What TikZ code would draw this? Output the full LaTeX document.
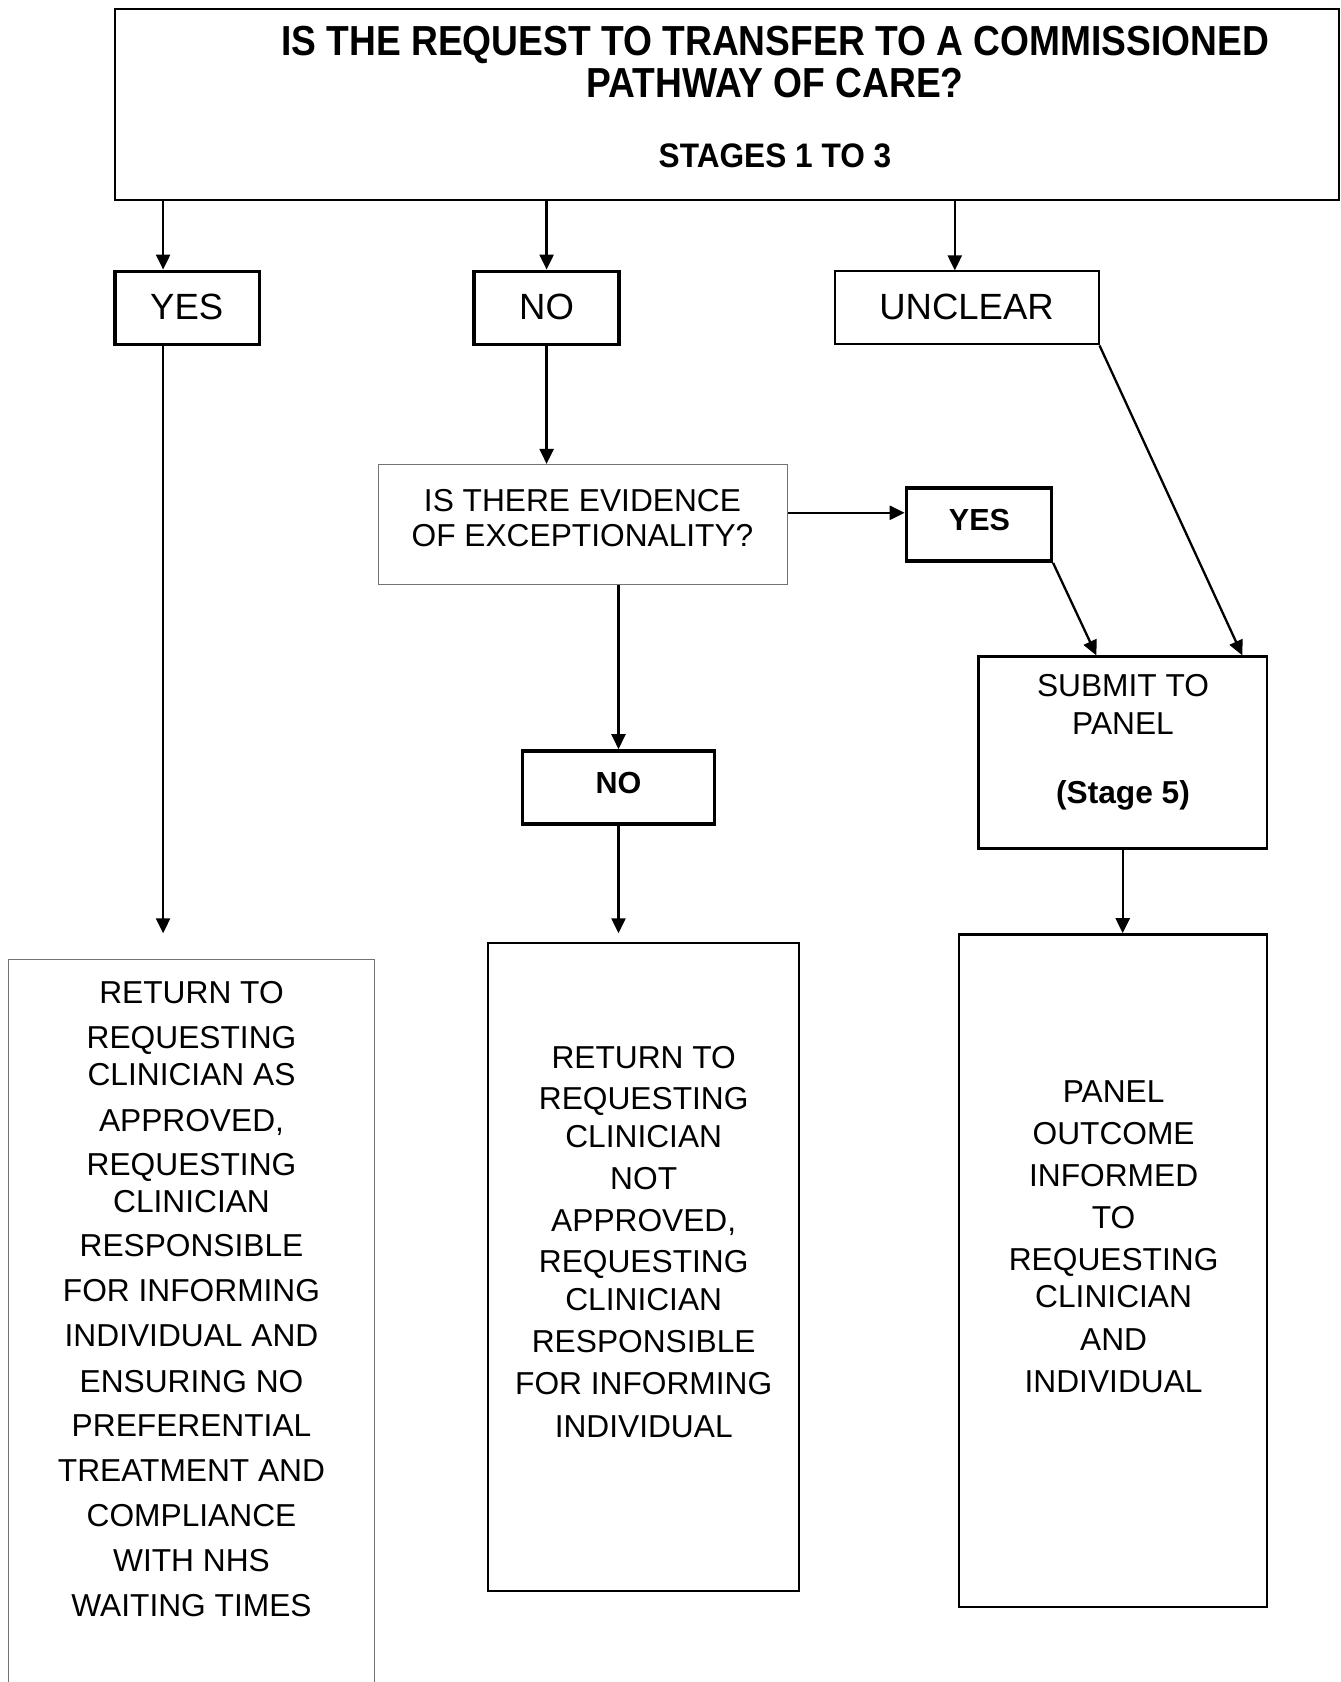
\documentclass[tikz,border=0pt]{standalone}
\usepackage{fontspec}
\setmainfont{Liberation Sans}
\usetikzlibrary{arrows.meta}
\begin{document}
\begin{tikzpicture}[x=1pt,y=-1pt,
  bx/.style={draw=black, rectangle, inner sep=0pt, line width=2pt},
  thickbx/.style={bx, line width=3.6pt},
  medbx/.style={bx, line width=2.4pt},
  greybx/.style={bx, draw=black!55, line width=1.2pt},
  txt/.style={anchor=base, inner sep=0pt, font=\fontsize{31.7}{37}\selectfont},
  btxt/.style={txt, font=\fontsize{30.5}{37}\selectfont\bfseries},
  ltxt/.style={txt, font=\fontsize{36.5}{42}\selectfont},
  arr/.style={line width=2.3pt, -{Triangle[length=15pt,width=14pt]}}
]
\useasboundingbox (0,0) rectangle (1341,1682);

% boxes
\node[bx, minimum width=1224.1pt, minimum height=190.9pt] (top) at (726.85,104.05) {};
\node[thickbx, minimum width=144.8pt, minimum height=73pt] (yes) at (187.2,307.9) {};
\node[thickbx, minimum width=144.8pt, minimum height=73pt] (no) at (546.6,307.9) {};
\node[bx, minimum width=263.9pt, minimum height=73pt] (unc) at (966.55,307.9) {};
\node[greybx, minimum width=408.7pt, minimum height=120.2pt] (exc) at (583.05,524.6) {};
\node[thickbx, minimum width=144.8pt, minimum height=73pt] (yes2) at (978.9,524.6) {};
\node[medbx, minimum width=288.6pt, minimum height=192pt] (sub) at (1122.7,752.6) {};
\node[thickbx, minimum width=192pt, minimum height=72.9pt] (no2) at (618.5,787.45) {};
\node[greybx, minimum width=365.8pt, minimum height=740.9pt] (left) at (191.5,1329.55) {};
\node[medbx, minimum width=311.1pt, minimum height=648pt] (mid) at (643.65,1267) {};
\node[medbx, minimum width=308pt, minimum height=672.6pt] (panel) at (1113,1270.7) {};

% title texts
\node[txt, font=\fontsize{42}{46}\selectfont\bfseries] (t1) at (775,55.6) {\scalebox{0.885}[1]{IS THE REQUEST TO TRANSFER TO A COMMISSIONED}};
\node[txt, font=\fontsize{42}{46}\selectfont\bfseries] (t2) at (775,97.4) {\scalebox{0.885}[1]{PATHWAY OF CARE?}};
\node[txt, font=\fontsize{34}{40}\selectfont\bfseries] (t3) at (775,167.8) {\scalebox{0.93}[1]{STAGES 1 TO 3}};

\node[ltxt] (yest) at (186.7,319) {YES};
\node[ltxt] (not) at (546.6,319) {NO};
\node[ltxt] (unct) at (966.6,319) {UNCLEAR};

\node[txt] (ex1) at (582.5,511.2) {IS THERE EVIDENCE};
\node[txt] (ex2) at (582.5,546.6) {OF EXCEPTIONALITY?};

\node[btxt] (yes2t) at (979.5,530.2) {YES};
\node[btxt] (no2t) at (618.5,793.9) {NO};

\node[txt] (s1) at (1123,696.6) {SUBMIT TO};
\node[txt] (s2) at (1123,734.1) {PANEL};
\node[txt, font=\fontsize{31.7}{37}\selectfont\bfseries] (s3) at (1123,803.9) {(Stage 5)};

\foreach \yy/\tx [count=\i] in {992.3/RETURN TO, 1037.4/REQUESTING, 1073.9/CLINICIAN AS,
  1120/{APPROVED,}, 1164/REQUESTING, 1201.5/CLINICIAN, 1245.5/RESPONSIBLE,
  1290.6/FOR INFORMING, 1335.6/INDIVIDUAL AND, 1380.7/ENSURING NO,
  1424.7/PREFERENTIAL, 1469.7/TREATMENT AND, 1514.8/COMPLIANCE,
  1559.9/WITH NHS, 1604.9/WAITING TIMES}
  \node[txt] (L\i) at (191.5,\yy+11.3) {\tx};

\foreach \yy/\tx [count=\i] in {1056.7/RETURN TO, 1098.5/REQUESTING, 1136.1/CLINICIAN,
  1177.9/NOT, 1219.8/{APPROVED,}, 1261.6/REQUESTING, 1299.2/CLINICIAN,
  1341/RESPONSIBLE, 1382.8/FOR INFORMING, 1425.8/INDIVIDUAL}
  \node[txt] (M\i) at (643.7,\yy+11.3) {\tx};

\foreach \yy/\tx [count=\i] in {1091/PANEL, 1132.9/OUTCOME, 1174.7/INFORMED,
  1217.6/TO, 1259.5/REQUESTING, 1295.9/CLINICIAN, 1338.9/AND, 1380.7/INDIVIDUAL}
  \node[txt] (R\i) at (1113.6,\yy+11.3) {\tx};

% helper coordinates
\coordinate (c1) at (163.1,300);
\coordinate (c3) at (954.8,300);
\coordinate (c6) at (850,512.8);
\coordinate (c7) at (1096.4,700);
\coordinate (c8) at (1242.3,700);
\coordinate (e1) at (163.1,933.3);
\coordinate (e10) at (618.5,933.3);

% connectors
\draw[arr] (top.south -| c1) -- (yes.north -| c1);
\draw[arr] (top.south -| no.north) -- (no.north);
\draw[arr] (top.south -| c3) -- (unc.north -| c3);
\draw[arr] (yes.south -| c1) -- (e1);
\draw[arr] (no.south) -- (exc.north -| no.south);
\draw[arr] (exc.east |- c6) -- (yes2.west |- c6);
\draw[arr] (yes2.south east) -- (sub.north -| c7);
\draw[arr] (unc.south east) -- (sub.north -| c8);
\draw[arr] (exc.south -| no2.north) -- (no2.north);
\draw[arr] (no2.south) -- (e10);
\draw[arr] (sub.south) -- (sub.south |- panel.north);
\end{tikzpicture}
\end{document}
